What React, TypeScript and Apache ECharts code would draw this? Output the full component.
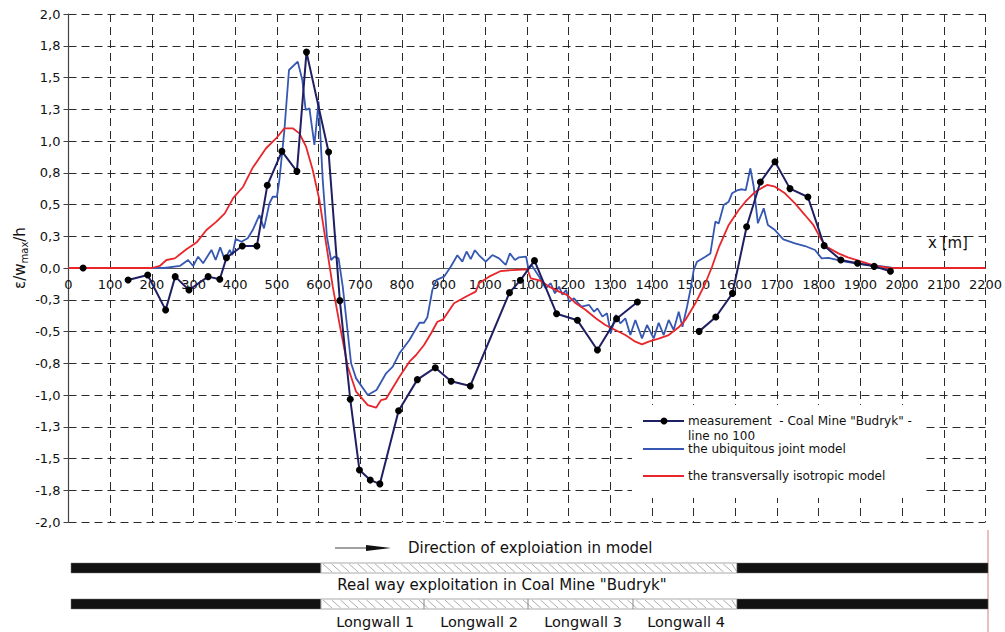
import React, { useEffect, useRef } from 'react';
import * as echarts from 'echarts';

// measurement - Coal Mine "Budryk" - line no 100 (null = gap)
const measX = [35, 90, 143, 190, 233, 256, 289, 335, 363, 379, 417, 452, 477, 512, 548, 571, 624, 651, 676, 698, 724, 747, 792, 837, 880, 918, 964, 1058, 1084, 1118, 1171, 1221, 1269, 1315, 1365, 1440, 1513, 1553, 1593, 1627, 1660, 1695, 1731, 1774, 1813, 1853, 1893, 1933, 1972];
const measY = [0, null, -0.094, -0.055, -0.33, -0.068, -0.173, -0.068, -0.089, 0.081, 0.173, 0.173, 0.651, 0.919, 0.761, 1.7, 0.913, -0.257, -1.034, -1.59, -1.67, -1.7, -1.124, -0.879, -0.785, -0.892, -0.929, -0.194, -0.097, 0.058, -0.36, -0.412, -0.646, -0.399, -0.268, null, -0.499, -0.386, -0.2, 0.325, 0.677, 0.837, 0.625, 0.559, 0.176, 0.063, 0.037, 0.013, -0.026];

// the ubiquitous joint model
const ujX = [0, 230, 267, 287, 299, 311, 323, 343, 353, 364, 375, 387, 393, 401, 415, 430, 442, 458, 469, 482, 490, 500, 506, 518, 529, 550, 561, 569, 578, 590, 600, 610, 620, 630, 638, 648, 658, 678, 690, 718, 739, 762, 778, 794, 818, 842, 853, 861, 873, 883, 901, 917, 933, 945, 955, 965, 975, 985, 1001, 1017, 1033, 1049, 1059, 1071, 1081, 1098, 1103, 1111, 1129, 1145, 1157, 1167, 1177, 1185, 1194, 1201, 1213, 1223, 1231, 1249, 1261, 1269, 1281, 1292, 1301, 1313, 1324, 1336, 1348, 1360, 1376, 1388, 1404, 1416, 1428, 1440, 1452, 1464, 1473, 1484, 1492, 1500, 1508, 1528, 1540, 1552, 1560, 1572, 1584, 1592, 1606, 1616, 1625, 1636, 1644, 1654, 1668, 1678, 1695, 1715, 1743, 1767, 1791, 1807, 1823, 1863, 1903, 1943, 1975];
const ujY = [0, 0, 0.016, 0.063, 0.016, 0.089, 0.037, 0.142, 0.063, 0.163, 0.063, 0.142, 0.102, 0.228, 0.207, 0.234, 0.299, 0.417, 0.312, 0.509, 0.561, 0.561, 0.693, 1.087, 1.559, 1.625, 1.48, 1.244, 1.257, 0.969, 1.31, 0.693, 0.247, 0.063, 0.089, 0.076, -0.147, -0.75, -0.869, -1.0, -0.961, -0.829, -0.777, -0.672, -0.567, -0.431, -0.431, -0.388, -0.173, -0.094, -0.068, 0.01, 0.1, 0.05, 0.13, 0.07, 0.14, 0.1, 0.05, 0.102, 0.076, 0.024, 0.115, 0.063, 0.084, 0.089, 0, 0.024, -0.068, -0.16, -0.12, -0.2, -0.147, -0.21, -0.173, -0.265, -0.239, -0.278, -0.305, -0.291, -0.344, -0.318, -0.383, -0.357, -0.514, -0.37, -0.436, -0.396, -0.528, -0.409, -0.554, -0.449, -0.554, -0.431, -0.528, -0.409, -0.488, -0.344, -0.462, -0.305, -0.173, -0.016, 0.05, 0.089, 0.115, 0.365, 0.35, 0.496, 0.522, 0.588, 0.614, 0.62, 0.614, 0.785, 0.64, 0.352, 0.47, 0.339, 0.299, 0.226, 0.194, 0.173, 0.142, 0.076, 0.08, 0.05, 0.029, 0.016, 0.002];

// the transversally isotropic model
const tiX = [0, 200, 219, 235, 255, 283, 307, 331, 355, 375, 395, 419, 442, 474, 498, 518, 538, 554, 570, 586, 602, 618, 634, 650, 670, 690, 718, 738, 750, 762, 782, 794, 818, 834, 853, 870, 885, 899, 925, 953, 977, 985, 1009, 1037, 1065, 1101, 1109, 1133, 1153, 1177, 1197, 1217, 1241, 1265, 1288, 1312, 1336, 1360, 1376, 1392, 1416, 1440, 1464, 1480, 1504, 1528, 1544, 1560, 1584, 1608, 1624, 1648, 1676, 1695, 1719, 1743, 1767, 1787, 1807, 1819, 1847, 1870, 1903, 1935, 1967, 2000, 2200];
const tiY = [0, 0, 0.016, 0.063, 0.076, 0.147, 0.2, 0.299, 0.365, 0.43, 0.55, 0.64, 0.79, 0.943, 1.02, 1.1, 1.1, 1.06, 0.955, 0.772, 0.535, 0.194, -0.147, -0.436, -0.777, -0.974, -1.079, -1.1, -1.04, -1.03, -0.921, -0.856, -0.738, -0.685, -0.606, -0.514, -0.423, -0.404, -0.278, -0.226, -0.186, -0.12, -0.068, -0.024, -0.016, -0.01, -0.081, -0.1, -0.147, -0.186, -0.213, -0.278, -0.331, -0.396, -0.449, -0.488, -0.528, -0.58, -0.601, -0.58, -0.556, -0.528, -0.467, -0.409, -0.278, -0.12, 0.01, 0.16, 0.339, 0.457, 0.522, 0.601, 0.654, 0.64, 0.588, 0.509, 0.417, 0.339, 0.22, 0.168, 0.115, 0.084, 0.05, 0.016, 0.002, 0, 0];

const legendLabels = ['measurement  - Coal Mine "Budryk" -', 'line no 100', 'the ubiquitous joint model', 'the transversally isotropic model'];
const longwallLabels = ['Longwall 1', 'Longwall 2', 'Longwall 3', 'Longwall 4'];

const NAVY = '#1f1f63';
const BLUE = '#3658b2';
const RED = '#e8262b';
const FONT = 'DejaVu Sans';

const GRID_TOP = 14;
const GRID_BOTTOM = 110;
const CHART_H = 632;
const Y_MIN = -2;
const Y_MAX = 2;

function zip(xs: number[], ys: (number | null)[]) {
  return xs.map((x, i) => [x, ys[i] === null ? '-' : ys[i]]);
}

function hatchBar(x0: number, x1: number, y0: number, h: number, dividers: number[]) {
  const els: any[] = [];
  els.push({ type: 'rect', shape: { x: x0, y: y0, width: x1 - x0, height: h }, style: { fill: '#fff', stroke: '#aaa', lineWidth: 1 }, z: 10 });
  for (let x = x0 + 2; x < x1 - 2; x += 8.7) {
    const xe = Math.min(x + 9, x1);
    els.push({ type: 'line', shape: { x1: x, y1: y0 + 1, x2: xe, y2: y0 + h - 1 }, style: { stroke: '#8a8a8a', lineWidth: 0.7 }, z: 11 });
  }
  dividers.forEach((d) => {
    els.push({ type: 'line', shape: { x1: d, y1: y0, x2: d, y2: y0 + h }, style: { stroke: '#888', lineWidth: 1 }, z: 12 });
  });
  return els;
}

export default function App() {
  const ref = useRef<HTMLDivElement>(null);
  useEffect(() => {
    const chart = echarts.init(ref.current!, null, { renderer: 'svg' });
    const txt = (text: string, x: number, y: number, size: number, align = 'left') => ({
      type: 'text', x, y, z: 20,
      style: { text, fill: '#111', fontSize: size, fontFamily: FONT, align, verticalAlign: 'middle' },
    });
    const graphics: any[] = [];
    graphics.push({ type: 'line', shape: { x1: 988, y1: 530, x2: 988, y2: 632 }, style: { stroke: '#d08080', lineWidth: 1 }, z: 5 });
    graphics.push({
      type: 'text', x: 20, y: 258, rotation: Math.PI / 2, z: 20,
      style: {
        text: '{a|ε/w}{b|max}{a|/h}',
        align: 'center', verticalAlign: 'middle',
        rich: {
          a: { fontSize: 15, fontFamily: FONT, fill: '#111', lineHeight: 18 },
          b: { fontSize: 10, fontFamily: FONT, fill: '#111', lineHeight: 12, verticalAlign: 'bottom' },
        },
      },
    });
    graphics.push(txt('x [m]', 928, 243, 15));
    // legend
    graphics.push({ type: 'rect', shape: { x: 632, y: 405, width: 290, height: 93 }, style: { fill: '#fff' }, z: 15 });
    graphics.push({ type: 'line', shape: { x1: 643, y1: 421, x2: 684, y2: 421 }, style: { stroke: NAVY, lineWidth: 2 }, z: 20 });
    graphics.push({ type: 'circle', shape: { cx: 664, cy: 421, r: 3.5 }, style: { fill: '#000' }, z: 21 });
    graphics.push(txt(legendLabels[0], 688, 421, 12));
    graphics.push(txt(legendLabels[1], 688, 436, 12));
    graphics.push({ type: 'line', shape: { x1: 643, y1: 449, x2: 684, y2: 449 }, style: { stroke: BLUE, lineWidth: 2 }, z: 20 });
    graphics.push(txt(legendLabels[2], 688, 449, 12));
    graphics.push({ type: 'line', shape: { x1: 643, y1: 476, x2: 684, y2: 476 }, style: { stroke: RED, lineWidth: 2 }, z: 20 });
    graphics.push(txt(legendLabels[3], 688, 476, 12));
    // direction arrow
    graphics.push({ type: 'line', shape: { x1: 335, y1: 548, x2: 368, y2: 548 }, style: { stroke: '#444', lineWidth: 1 }, z: 20 });
    graphics.push({ type: 'polygon', shape: { points: [[366, 545], [391, 548], [366, 551]] }, style: { fill: '#111' }, z: 20 });
    graphics.push(txt('Direction of exploiation in model', 408, 548, 15));
    // bar 1
    graphics.push({ type: 'rect', shape: { x: 71, y: 563, width: 250, height: 10 }, style: { fill: '#111', stroke: '#777', lineWidth: 0.5 }, z: 10 });
    graphics.push(...hatchBar(321, 737, 563, 10, []));
    graphics.push({ type: 'rect', shape: { x: 737, y: 563, width: 251, height: 10 }, style: { fill: '#111', stroke: '#777', lineWidth: 0.5 }, z: 10 });
    graphics.push(txt('Real way exploitation in Coal Mine "Budryk"', 502, 585, 15, 'center'));
    // bar 2
    graphics.push({ type: 'rect', shape: { x: 71, y: 599, width: 250, height: 10 }, style: { fill: '#111', stroke: '#777', lineWidth: 0.5 }, z: 10 });
    graphics.push(...hatchBar(321, 737, 599, 10, [424, 528, 633]));
    graphics.push({ type: 'rect', shape: { x: 737, y: 599, width: 251, height: 10 }, style: { fill: '#111', stroke: '#777', lineWidth: 0.5 }, z: 10 });
    const lwX = [375, 479, 583, 686];
    longwallLabels.forEach((l, i) => graphics.push(txt(l, lwX[i], 622, 14.5, 'center')));

    // shift the x axis from the bottom of the grid up to the y = 0 level
    const plotH = CHART_H - GRID_TOP - GRID_BOTTOM;
    const zeroOffset = -plotH * (0 - Y_MIN) / (Y_MAX - Y_MIN);

    const gridLine = { show: true, lineStyle: { color: '#2a2a2a', width: 1, type: [8, 5] } };
    chart.setOption({
      animation: false,
      backgroundColor: '#fff',
      grid: { left: 68.5, right: 19, top: GRID_TOP, bottom: GRID_BOTTOM, containLabel: false },
      xAxis: {
        type: 'value', min: 0, max: 2200, interval: 100,
        position: 'bottom', offset: zeroOffset,
        axisLine: { onZero: false, lineStyle: { color: '#555', width: 1.2 } },
        axisTick: { show: false },
        axisLabel: { color: '#111', fontSize: 13, fontFamily: FONT, margin: 10, formatter: (v: number) => String(v) },
        splitLine: gridLine,
      },
      yAxis: {
        type: 'value', min: Y_MIN, max: Y_MAX, interval: 0.25,
        axisLine: { show: true, lineStyle: { color: '#444', width: 1.2 } },
        axisTick: { show: true, length: 5, lineStyle: { color: '#444' } },
        axisLabel: { color: '#111', fontSize: 13, fontFamily: FONT, margin: 8, formatter: (v: number) => v.toFixed(1).replace('.', ',') },
        splitLine: gridLine,
      },
      series: [
        { name: legendLabels[2], type: 'line', data: zip(ujX, ujY), showSymbol: false, lineStyle: { color: BLUE, width: 1.8 }, itemStyle: { color: BLUE }, z: 3 },
        { name: legendLabels[3], type: 'line', data: zip(tiX, tiY), showSymbol: false, lineStyle: { color: RED, width: 1.8 }, itemStyle: { color: RED }, z: 4 },
        { name: 'measurement', type: 'line', data: zip(measX, measY), connectNulls: false, symbol: 'circle', symbolSize: 7, showSymbol: true, lineStyle: { color: NAVY, width: 2 }, itemStyle: { color: '#000' }, z: 5 },
      ],
      graphic: graphics,
    });
    return () => chart.dispose();
  }, []);
  return <div ref={ref} style={{ position: 'absolute', left: 0, top: 0, width: 1005, height: 632 }} />;
}
